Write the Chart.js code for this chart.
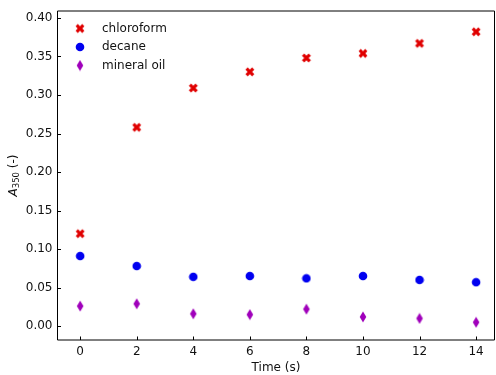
<!DOCTYPE html>
<html>
<head>
<meta charset="utf-8">
<script src="https://cdn.jsdelivr.net/npm/chart.js@4.4.0/dist/chart.umd.min.js"></script>
<style>
  html, body { margin: 0; padding: 0; background: #fff; overflow: hidden; }
  #wrap { width: 496px; height: 375px; }
</style>
</head>
<body>
<div id="wrap"><canvas id="chart"></canvas></div>
<script>
// ---- data ----
const times = [0, 2, 4, 6, 8, 10, 12, 14];
const chloroform = [0.120, 0.258, 0.309, 0.330, 0.348, 0.354, 0.367, 0.382];
const decane = [0.091, 0.078, 0.064, 0.065, 0.062, 0.065, 0.060, 0.057];
const mineralOil = [0.026, 0.029, 0.016, 0.015, 0.022, 0.012, 0.010, 0.005];

const xTickValues = [0, 2, 4, 6, 8, 10, 12, 14];
const yTickValues = [0, 0.05, 0.10, 0.15, 0.20, 0.25, 0.30, 0.35, 0.40];

const RED = '#e00000';
const BLUE = '#0000f0';
const PURPLE = '#a000bb';

// ---- marker images (matplotlib-like 'X', 'o', 'd') ----
function makeXMarker(color) {
      const c = document.createElement('canvas');
      c.width = 12; c.height = 12;
      const g = c.getContext('2d');
      const L = 4.7, t = 1.6;
      const pts = [[t, L], [t, t], [L, t], [L, -t], [t, -t], [t, -L], [-t, -L], [-t, -t], [-L, -t], [-L, t], [-t, t], [-t, L]];
      const a = Math.PI / 4;
      g.fillStyle = color;
      g.beginPath();
      pts.forEach(([px, py], i) => {
            const rx = 6 + px * Math.cos(a) - py * Math.sin(a);
            const ry = 6 + px * Math.sin(a) + py * Math.cos(a);
            if (i === 0) g.moveTo(rx, ry); else g.lineTo(rx, ry);
      });
      g.closePath();
      g.fill();
      return c;
}

function makeCircle(color) {
      const c = document.createElement('canvas');
      c.width = 10; c.height = 10;
      const g = c.getContext('2d');
      g.fillStyle = color;
      g.beginPath();
      g.arc(5, 5, 4.3, 0, Math.PI * 2);
      g.fill();
      return c;
}

function makeThinDiamond(color) {
      const c = document.createElement('canvas');
      c.width = 10; c.height = 12;
      const g = c.getContext('2d');
      g.fillStyle = color;
      g.beginPath();
      g.moveTo(5, 0.5);
      g.lineTo(8.3, 6);
      g.lineTo(5, 11.5);
      g.lineTo(1.7, 6);
      g.closePath();
      g.fill();
      return c;
}

const toPoints = (ys) => times.map((t, i) => ({ x: t, y: ys[i] }));

// box on all four sides + inward ticks (matplotlib style)
const axesBoxPlugin = {
      id: 'axesBox',
      afterDraw(chart) {
            const ctx = chart.ctx;
            const a = chart.chartArea;
            const xs = chart.scales.x, ys = chart.scales.y;
            ctx.save();
            ctx.strokeStyle = '#000000';
            ctx.lineWidth = 1;
            ctx.beginPath();
            ctx.rect(a.left, a.top, a.right - a.left, a.bottom - a.top);
            const tl = 3.5;
            xs.ticks.forEach(t => {
                  const px = Math.round(xs.getPixelForValue(t.value)) + 0.5;
                  ctx.moveTo(px, a.bottom);
                  ctx.lineTo(px, a.bottom - tl);
            });
            ys.ticks.forEach(t => {
                  const py = Math.round(ys.getPixelForValue(t.value)) + 0.5;
                  ctx.moveTo(a.left, py);
                  ctx.lineTo(a.left + tl, py);
            });
            ctx.stroke();
            ctx.restore();
      }
};

// y-axis title with italic A and subscript 350
const yTitlePlugin = {
      id: 'yTitle',
      afterDraw(chart) {
            const ctx = chart.ctx;
            const a = chart.chartArea;
            const main = 'italic 12px "DejaVu Sans"';
            const sub = '8.5px "DejaVu Sans"';
            const rest = '12px "DejaVu Sans"';
            ctx.save();
            ctx.font = main; const wA = ctx.measureText('A').width;
            ctx.font = sub; const wS = ctx.measureText('350').width;
            ctx.font = rest; const wR = ctx.measureText(' (-)').width;
            const total = wA + wS + wR;
            ctx.translate(14, (a.top + a.bottom) / 2);
            ctx.rotate(-Math.PI / 2);
            ctx.fillStyle = '#111';
            ctx.textBaseline = 'middle';
            ctx.textAlign = 'left';
            let x = -total / 2;
            ctx.font = main; ctx.fillText('A', x, 0); x += wA;
            ctx.font = sub; ctx.fillText('350', x, 3); x += wS;
            ctx.font = rest; ctx.fillText(' (-)', x, 0);
            ctx.restore();
      }
};

Chart.defaults.font.family = '"DejaVu Sans"';
Chart.defaults.font.size = 12;
Chart.defaults.color = '#000';

// small radius keeps the layout from reserving overflow room; markers are images
const markerOpts = { pointRadius: 1.5, pointBorderWidth: 0, pointHoverRadius: 1.5 };

const ctx = document.getElementById('chart').getContext('2d');
new Chart(ctx, {
      type: 'scatter',
      data: {
            datasets: [
                  { label: 'chloroform', data: toPoints(chloroform), pointStyle: makeXMarker(RED), backgroundColor: RED, borderColor: RED, ...markerOpts },
                  { label: 'decane', data: toPoints(decane), pointStyle: makeCircle(BLUE), backgroundColor: BLUE, borderColor: BLUE, ...markerOpts },
                  { label: 'mineral oil', data: toPoints(mineralOil), pointStyle: makeThinDiamond(PURPLE), backgroundColor: PURPLE, borderColor: PURPLE, ...markerOpts }
            ]
      },
      options: {
            responsive: true,
            maintainAspectRatio: false,
            animation: false,
            layout: { padding: { top: 11, right: 1.5, left: 0, bottom: 0 } },
            scales: {
                  x: {
                        type: 'linear',
                        min: -0.8,
                        max: 14.65,
                        afterBuildTicks: (scale) => { scale.ticks = xTickValues.map(v => ({ value: v })); },
                        afterFit: (scale) => { scale.height = 35; scale.paddingLeft = 0; scale.paddingRight = 0; },
                        ticks: { padding: 5, color: '#111', maxRotation: 0, autoSkip: false, callback: v => String(v) },
                        grid: { display: false, drawTicks: false },
                        border: { display: false },
                        title: { display: true, text: 'Time (s)', color: '#111', font: { size: 12 }, padding: { top: 0, bottom: 0 } }
                  },
                  y: {
                        type: 'linear',
                        min: -0.018,
                        max: 0.409,
                        afterBuildTicks: (scale) => { scale.ticks = yTickValues.map(v => ({ value: v })); },
                        afterFit: (scale) => { scale.width = 57.5; scale.paddingTop = 0; scale.paddingBottom = 0; },
                        ticks: { padding: 5, color: '#111', callback: v => Number(v).toFixed(2) },
                        grid: { display: false, drawTicks: false },
                        border: { display: false }
                  }
            },
            plugins: {
                  legend: {
                        position: 'chartArea',
                        align: 'start',
                        title: { display: true, text: ' ', font: { size: 12 }, padding: { top: 0, bottom: 1.6 } },
                        labels: { usePointStyle: true, pointStyleWidth: 32, padding: 6.5, color: '#111', font: { size: 12 } }
                  },
                  tooltip: { enabled: false }
            }
      },
      plugins: [axesBoxPlugin, yTitlePlugin]
});
</script>
</body>
</html>
